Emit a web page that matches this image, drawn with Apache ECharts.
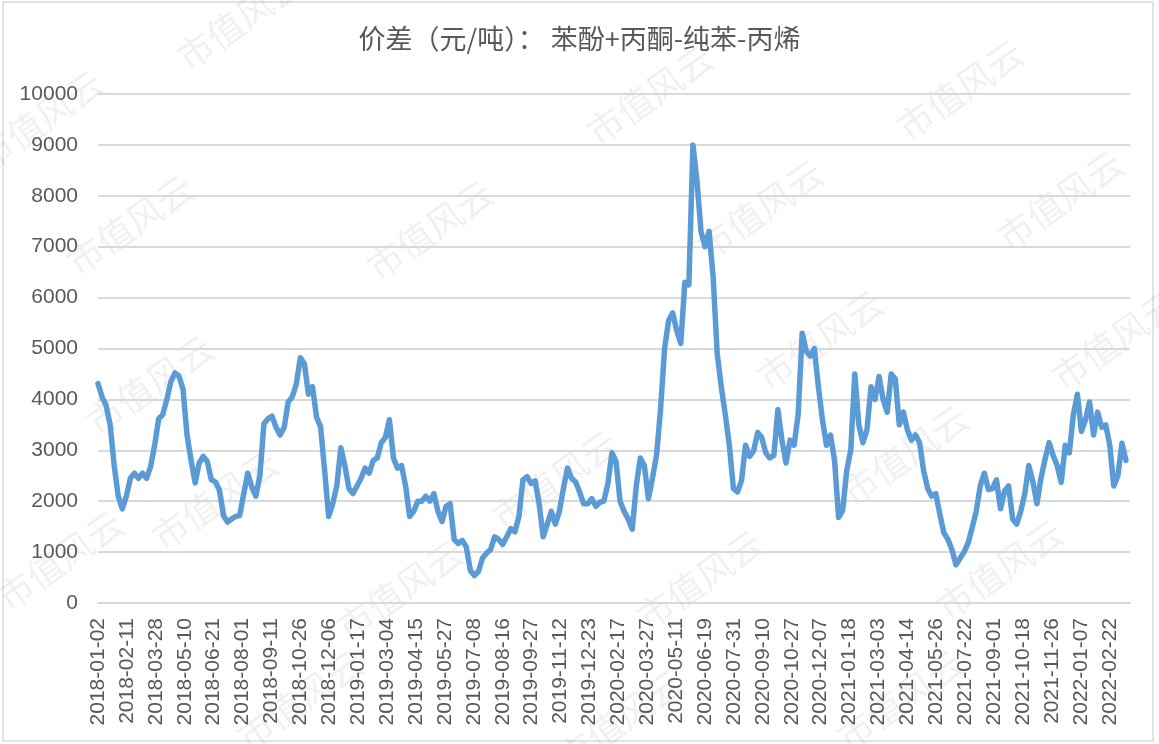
<!DOCTYPE html>
<html>
<head>
<meta charset="utf-8">
<title>价差（元/吨）</title>
<script src="https://cdn.jsdelivr.net/npm/echarts@6/dist/echarts.min.js"></script>
<style>
  html, body { margin: 0; padding: 0; background: #fff; }
  #spread-line { width: 1159px; height: 744px; }
</style>
</head>
<body>
<div id="spread-line"></div>
<script>
// x 轴刻度标签（36 个）
const xTicks = [
  '2018-01-02', '2018-02-11', '2018-03-28', '2018-05-10', '2018-06-21',
  '2018-08-01', '2018-09-11', '2018-10-26', '2018-12-06', '2019-01-17',
  '2019-03-04', '2019-04-15', '2019-05-27', '2019-07-08', '2019-08-16',
  '2019-09-27', '2019-11-12', '2019-12-23', '2020-02-17', '2020-03-27',
  '2020-05-11', '2020-06-19', '2020-07-31', '2020-09-10', '2020-10-27',
  '2020-12-07', '2021-01-18', '2021-03-03', '2021-04-14', '2021-05-26',
  '2021-07-22', '2021-09-01', '2021-10-18', '2021-11-26', '2022-01-07',
  '2022-02-22',
];

// 价差（元/吨），等间隔取样：第 0 个点 = 第一个刻度，第 250 个点 = 最后一个刻度
const spreadValues = [
  4310, 4050, 3880, 3500, 2700, 2100, 1850, 2100, 2450, 2550,
  2450, 2550, 2450, 2680, 3100, 3620, 3700, 4000, 4350, 4520,
  4460, 4200, 3300, 2800, 2360, 2750, 2880, 2780, 2420, 2380,
  2220, 1720, 1590, 1650, 1700, 1720, 2140, 2550, 2280, 2100,
  2500, 3520, 3620, 3670, 3450, 3300, 3450, 3950, 4050, 4300,
  4820, 4700, 4100, 4250, 3650, 3460, 2600, 1700, 1950, 2300,
  3050, 2700, 2250, 2150, 2300, 2450, 2650, 2550, 2800, 2850,
  3150, 3250, 3600, 2850, 2650, 2700, 2300, 1700, 1800, 2000,
  2000, 2100, 2000, 2150, 1800, 1600, 1900, 1950, 1250, 1170,
  1230, 1100, 640, 540, 620, 880, 980, 1050, 1300, 1250,
  1150, 1300, 1460, 1400, 1700, 2420, 2480, 2350, 2400, 1950,
  1300, 1550, 1800, 1550, 1800, 2250, 2650, 2450, 2380, 2180,
  1950, 1950, 2050, 1900, 1980, 2000, 2350, 2950, 2780, 2000,
  1800, 1650, 1450, 2300, 2850, 2700, 2050, 2450, 2900, 3800,
  5000, 5550, 5700, 5350, 5100, 6300, 6250, 9000, 8300, 7300,
  7000, 7300, 6400, 4900, 4250, 3700, 3100, 2250, 2180, 2400,
  3100, 2880, 2990, 3350, 3250, 2950, 2850, 2900, 3800, 3200,
  2750, 3200, 3100, 3700, 5300, 4950, 4850, 5000, 4250, 3600,
  3100, 3300, 2800, 1680, 1820, 2600, 3000, 4500, 3500, 3150,
  3400, 4250, 4000, 4450, 4000, 3750, 4500, 4400, 3500, 3750,
  3400, 3200, 3300, 3150, 2600, 2250, 2100, 2150, 1750, 1380,
  1250, 1050, 750, 880, 1000, 1180, 1480, 1800, 2300, 2550,
  2230, 2250, 2420, 1850, 2200, 2300, 1650, 1550, 1800, 2150,
  2700, 2380, 1950, 2450, 2820, 3150, 2900, 2700, 2370, 3100,
  2950, 3700, 4100, 3370, 3600, 3950, 3300, 3750, 3450, 3500,
  3100, 2300, 2500, 3140, 2800,
];

// 水印位置（像素）
const watermarkSpots = [
  [40, 120], [240, 20], [130, 225], [430, 230], [650, 95], [960, 90],
  [760, 210], [1060, 200], [150, 385], [820, 340], [1115, 340],
  [215, 500], [555, 480], [905, 455], [400, 590], [700, 580],
  [1000, 570], [60, 560], [300, 700], [620, 720], [900, 700],
];

const LAST_TICK_SAMPLE = 250;
const tickStep = LAST_TICK_SAMPLE / (xTicks.length - 1);

const spreadChart = echarts.init(document.getElementById('spread-line'));

const labelFont = 'Liberation Sans, Arial, sans-serif';
const textColor = '#595959';

const option = {
  backgroundColor: '#ffffff',
  animation: false,
  title: {
    text: '价差（元/吨）： 苯酚+丙酮-纯苯-丙烯',
    left: 'center',
    top: 20,
    textStyle: {
      fontFamily: 'Noto Sans CJK SC',
      fontSize: 27,
      fontWeight: 'normal',
      color: textColor,
    },
  },
  grid: {
    left: 98,
    right: 29,
    top: 94,
    bottom: 141,
  },
  xAxis: {
    type: 'value',
    min: 0,
    max: 255,
    interval: tickStep,
    axisLine: { show: true, lineStyle: { color: '#d9d9d9', width: 2 } },
    axisTick: { show: false },
    splitLine: { show: false },
    axisLabel: {
      rotate: 90,
      margin: 15,
      fontFamily: labelFont,
      fontSize: 21,
      color: textColor,
      showMaxLabel: false,
      formatter: (val) => xTicks[Math.round(val / tickStep)] || '',
    },
  },
  yAxis: {
    type: 'value',
    min: 0,
    max: 10000,
    interval: 1000,
    axisLine: { show: false },
    axisTick: { show: false },
    splitLine: { lineStyle: { color: '#d9d9d9', width: 2 } },
    axisLabel: {
      margin: 20,
      fontFamily: labelFont,
      fontSize: 21,
      color: textColor,
      formatter: (val) => String(val),
    },
  },
  graphic: [
    {
      type: 'rect',
      silent: true,
      z: -10,
      shape: { x: 3, y: 2, width: 1150, height: 739 },
      style: { fill: 'none', stroke: '#d9d9d9', lineWidth: 1.5 },
    },
    ...watermarkSpots.map(([x, y]) => ({
      type: 'text',
      silent: true,
      z: -5,
      x,
      y,
      rotation: (35 * Math.PI) / 180,
      style: {
        text: '市值风云',
        fontFamily: 'Noto Sans CJK SC',
        fontSize: 36,
        fill: 'rgba(0, 0, 0, 0.06)',
        align: 'center',
        verticalAlign: 'middle',
      },
    })),
  ],
  series: [
    {
      name: '价差',
      type: 'line',
      symbol: 'none',
      data: spreadValues.map((v, i) => [i, v]),
      lineStyle: {
        color: '#5b9bd5',
        width: 5.5,
        join: 'round',
        cap: 'round',
      },
      itemStyle: { color: '#5b9bd5' },
    },
  ],
};

spreadChart.setOption(option);
</script>
</body>
</html>
